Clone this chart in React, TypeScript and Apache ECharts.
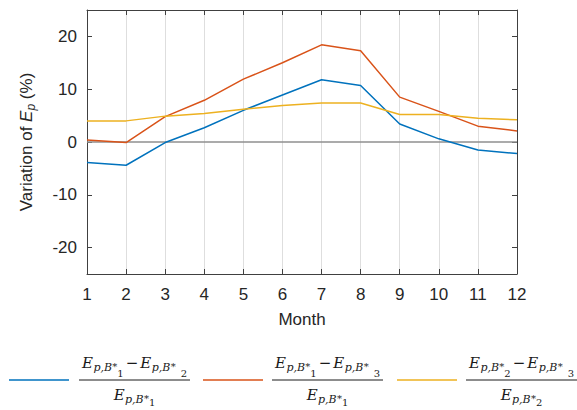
import React, { useEffect, useRef } from "react";
import * as echarts from "echarts";

// ---- data ----
const months = [1, 2, 3, 4, 5, 6, 7, 8, 9, 10, 11, 12];
const var12 = [-3.9, -4.4, -0.1, 2.7, 6.0, 8.9, 11.8, 10.7, 3.4, 0.6, -1.5, -2.2];
const var13 = [0.4, -0.1, 4.8, 7.9, 11.9, 15.0, 18.4, 17.3, 8.5, 5.8, 3.0, 2.1];
const var23 = [4.0, 4.0, 4.9, 5.4, 6.2, 6.9, 7.4, 7.4, 5.2, 5.2, 4.5, 4.2];
const yTicks = [-20, -10, 0, 10, 20];
const seriesNames = [
  "(E_p,B*1 − E_p,B*2) / E_p,B*1",
  "(E_p,B*1 − E_p,B*3) / E_p,B*1",
  "(E_p,B*2 − E_p,B*3) / E_p,B*2",
];
// legend fractions: [numerator first index, numerator second index, denominator index]
const legendTerms = [
  [1, 2, 1],
  [1, 3, 1],
  [2, 3, 2],
];
const xAxisName = "Month";

const colors = ["#0072BD", "#D95319", "#EDB120"];
const SANS = '"Liberation Sans", Arial, Helvetica, sans-serif';
const SERIF = '"DejaVu Serif", "Liberation Serif", serif';
const INK = "#262626";

let mctx: CanvasRenderingContext2D | null = null;
function measure(text: string, size: number, italic: boolean) {
  if (!mctx) mctx = document.createElement("canvas").getContext("2d");
  if (!mctx) return text.length * size * 0.6;
  mctx.font = `${italic ? "italic " : ""}${size}px ${SERIF}`;
  return mctx.measureText(text).width;
}

function textEl(text: string, x: number, baseline: number, size: number, italic: boolean) {
  return {
    type: "text",
    silent: true,
    x,
    y: baseline - 0.346 * size,
    style: {
      text,
      fontSize: size,
      fontFamily: SERIF,
      fontStyle: italic ? "italic" : "normal",
      fill: "#1a1a1a",
      align: "left",
      verticalAlign: "middle",
      textAlign: "left",
      textVerticalAlign: "middle",
    },
  };
}

// term E_{p,B*_k}
function termLayout(digit: number, gap: number) {
  const wE = measure("E", 15, true);
  const wS = measure("p,B", 11, true);
  const wStar = measure("*", 10, false);
  const wD = measure(String(digit), 10, false);
  const w = wE + 0.5 + wS + 0.3 + wStar + gap + wD;
  const build = (x: number, b: number, digitDrop: number) => {
    const els: any[] = [];
    let cx = x;
    els.push(textEl("E", cx, b, 15, true));
    cx += wE + 0.5;
    els.push(textEl("p,B", cx, b + 3.5, 11, true));
    cx += wS + 0.3;
    els.push(textEl("*", cx, b + 1.5, 10, false));
    cx += wStar + gap;
    els.push(textEl(String(digit), cx, b + digitDrop, 10, false));
    return els;
  };
  return { w, build };
}

function fraction(x0: number, barW: number, terms: number[]) {
  const els: any[] = [];
  const t1 = termLayout(terms[0], 0);
  const t2 = termLayout(terms[1], 5);
  const wMinus = measure("−", 15, false);
  const numW = t1.w + 2 + wMinus + 2 + t2.w;
  const cx = x0 + barW / 2;
  let nx = cx - numW / 2;
  const nb = 368;
  els.push(...t1.build(nx, nb, 9));
  nx += t1.w + 2;
  els.push(textEl("−", nx, nb, 15, false));
  nx += wMinus + 2;
  els.push(...t2.build(nx, nb, 9));
  els.push({
    type: "line",
    silent: true,
    shape: { x1: x0, y1: 380, x2: x0 + barW, y2: 380 },
    style: { stroke: "#1a1a1a", lineWidth: 1 },
  });
  const d = termLayout(terms[2], 0);
  els.push(...d.build(cx - d.w / 2, 400, 6));
  return els;
}

export default function App() {
  const ref = useRef<HTMLDivElement>(null);
  useEffect(() => {
    if (!ref.current) return;
    const chart = echarts.init(ref.current, null, { renderer: "svg" });
    const seriesData = [var12, var13, var23];

    const legendEls: any[] = [];
    const lineX = [9, 203, 397];
    const fracX = [79, 272, 466];
    for (let i = 0; i < 3; i++) {
      legendEls.push({
        type: "line",
        silent: true,
        shape: { x1: lineX[i], y1: 380, x2: lineX[i] + 60, y2: 380 },
        style: { stroke: colors[i], lineWidth: 1.5 },
      });
      legendEls.push(...fraction(fracX[i], 111, legendTerms[i]));
    }

    const axisLabelStyle = { color: INK, fontSize: 17, fontFamily: SANS };

    chart.setOption({
      animation: false,
      backgroundColor: "#ffffff",
      grid: { left: 87, top: 10, width: 430, height: 264, show: false },
      xAxis: [
        {
          type: "value",
          min: 1,
          max: 12,
          interval: 1,
          position: "bottom",
          name: xAxisName,
          nameLocation: "middle",
          nameGap: 37,
          nameTextStyle: { color: INK, fontSize: 17, fontFamily: SANS },
          axisLine: { show: true, onZero: false, lineStyle: { color: "#404040", width: 1 } },
          axisTick: { show: true, inside: true, length: 5, lineStyle: { color: "#404040" } },
          axisLabel: { ...axisLabelStyle, margin: 12 },
          splitLine: { show: true, lineStyle: { color: "#dedede", width: 1 } },
        },
        {
          type: "value",
          min: 1,
          max: 12,
          interval: 1,
          position: "top",
          axisLine: { show: true, onZero: false, lineStyle: { color: "#404040", width: 1 } },
          axisTick: { show: true, inside: true, length: 5, lineStyle: { color: "#404040" } },
          axisLabel: { show: false },
          splitLine: { show: false },
        },
      ],
      yAxis: [
        {
          type: "value",
          min: -25,
          max: 25,
          position: "left",
          name: "{n|Variation of }{e|E}{s|p}{n| (%)}",
          nameLocation: "middle",
          nameGap: 50,
          nameTextStyle: {
            color: INK,
            fontSize: 17,
            fontFamily: SANS,
            rich: {
              n: { color: INK, fontSize: 17, fontFamily: SANS, lineHeight: 22 },
              e: { color: INK, fontSize: 17, fontFamily: SANS, fontStyle: "italic", lineHeight: 22 },
              s: {
                color: INK,
                fontSize: 12,
                fontFamily: SANS,
                fontStyle: "italic",
                lineHeight: 10,
                verticalAlign: "bottom",
              },
            },
          },
          axisLine: { show: true, onZero: false, lineStyle: { color: "#404040", width: 1 } },
          axisTick: { show: true, inside: true, length: 5, customValues: yTicks, lineStyle: { color: "#404040" } },
          axisLabel: { ...axisLabelStyle, margin: 10, customValues: yTicks },
          splitLine: { show: false },
        },
        {
          type: "value",
          min: -25,
          max: 25,
          position: "right",
          axisLine: { show: true, onZero: false, lineStyle: { color: "#404040", width: 1 } },
          axisTick: { show: true, inside: true, length: 5, customValues: yTicks, lineStyle: { color: "#404040" } },
          axisLabel: { show: false, customValues: yTicks },
          splitLine: { show: false },
        },
      ],
      series: seriesData.map((vals, i) => ({
        type: "line",
        name: seriesNames[i],
        xAxisIndex: 0,
        yAxisIndex: 0,
        data: months.map((m, j) => [m, vals[j]]),
        symbol: "none",
        showSymbol: false,
        z: 3,
        lineStyle: { color: colors[i], width: 1.5 },
        itemStyle: { color: colors[i] },
        markLine:
          i === 0
            ? {
                silent: true,
                symbol: "none",
                label: { show: false },
                z: 2,
                lineStyle: { color: "#8f8f8f", width: 1.5, type: "solid" },
                data: [{ yAxis: 0 }],
              }
            : undefined,
      })),
      graphic: { elements: legendEls },
    });
    return () => chart.dispose();
  }, []);

  return (
    <div
      ref={ref}
      style={{ position: "fixed", left: 0, top: 0, width: 577, height: 410, background: "#fff" }}
    />
  );
}
